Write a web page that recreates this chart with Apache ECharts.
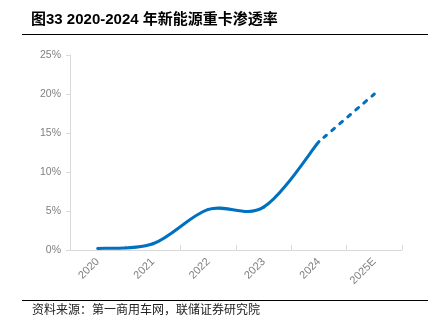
<!DOCTYPE html>
<html>
<head>
<meta charset="utf-8">
<script src="https://cdn.jsdelivr.net/npm/echarts@6/dist/echarts.min.js"></script>
<style>
html,body{margin:0;padding:0;background:#fff;}
#chart{width:439px;height:332px;}
</style>
</head>
<body>
<div id="chart"></div>
<script>
const titleText = '图33 2020-2024 年新能源重卡渗透率';
const sourceText = '资料来源：第一商用车网，联储证券研究院';
const categories = ['2020', '2021', '2022', '2023', '2024', '2025E'];
const actualValues = [0.2, 0.8, 5.2, 5.5, 13.9, null];
const forecastValues = [null, null, null, null, 13.9, 20.0];
const yTicks = [0, 5, 10, 15, 20, 25];

const FONT = "'Liberation Sans', 'Noto Sans CJK SC', sans-serif";
const LINE_COLOR = '#0070C0';

// Excel-style smoothed segment (Catmull-Rom -> cubic Bezier) through library coords
function segmentPath(vals, i, api, reverse) {
  const n = vals.length;
  const ok = k => k >= 0 && k < n && vals[k] != null;
  const p = k => api.coord([k, vals[k]]);
  const p0 = p(i), p1 = p(i + 1);
  const pm = ok(i - 1) ? p(i - 1) : p0;
  const pp = ok(i + 2) ? p(i + 2) : p1;
  const c1 = [p0[0] + (p1[0] - pm[0]) / 6, p0[1] + (p1[1] - pm[1]) / 6];
  const c2 = [p1[0] - (pp[0] - p0[0]) / 6, p1[1] - (pp[1] - p0[1]) / 6];
  const pts = reverse ? [p1, c2, c1, p0] : [p0, c1, c2, p1];
  const s = q => q[0] + ',' + q[1];
  return 'M' + s(pts[0]) + ' C' + s(pts[1]) + ' ' + s(pts[2]) + ' ' + s(pts[3]);
}

function segData(vals) {
  const out = [];
  for (let i = 0; i < vals.length - 1; i++) {
    if (vals[i] != null && vals[i + 1] != null) out.push([i, vals[i]]);
  }
  return out;
}

function makeSeries(vals, dash, reverse) {
  return {
    type: 'custom',
    coordinateSystem: 'cartesian2d',
    encode: {x: 0, y: 1},
    data: segData(vals),
    clip: false,
    renderItem: function (params, api) {
      const i = api.value(0);
      return {
        type: 'path',
        shape: {pathData: segmentPath(vals, i, api, reverse)},
        style: {
          fill: 'none',
          stroke: LINE_COLOR,
          lineWidth: 3,
          lineCap: 'round',
          lineDash: dash || null
        }
      };
    }
  };
}

const chart = echarts.init(document.getElementById('chart'), null, {renderer: 'canvas'});
chart.setOption({
  animation: false,
  backgroundColor: '#fff',
  grid: {left: 70, right: 37, top: 55, bottom: 82, containLabel: false},
  xAxis: {
    type: 'category',
    data: categories,
    boundaryGap: true,
    axisLine: {lineStyle: {color: '#d9d9d9', width: 1}},
    axisTick: {show: true, inside: true, length: 5, lineStyle: {color: '#d9d9d9'}},
    axisLabel: {rotate: 45, color: '#7f7f7f', fontSize: 11, fontFamily: FONT, margin: 10}
  },
  yAxis: {
    type: 'value',
    min: yTicks[0],
    max: yTicks[yTicks.length - 1],
    interval: 5,
    axisLine: {show: true, lineStyle: {color: '#d9d9d9', width: 1}},
    axisTick: {show: true, length: 4, lineStyle: {color: '#d9d9d9'}},
    splitLine: {show: false},
    axisLabel: {color: '#7f7f7f', fontSize: 10.5, fontFamily: FONT, margin: 9, formatter: '{value}%'}
  },
  series: [
    makeSeries(actualValues, null, false),
    makeSeries(forecastValues, [3.5, 7], true)
  ],
  graphic: [
    {type: 'text', left: 31, top: 12, style: {text: titleText, font: 'bold 15px ' + FONT, fill: '#000'}},
    {type: 'line', shape: {x1: 22, y1: 34.5, x2: 428, y2: 34.5}, style: {stroke: '#000', lineWidth: 1}},
    {type: 'line', shape: {x1: 22, y1: 300.5, x2: 428, y2: 300.5}, style: {stroke: '#000', lineWidth: 1}},
    {type: 'text', left: 32, top: 305, style: {text: sourceText, font: '12px ' + FONT, fill: '#222'}}
  ]
});
</script>
</body>
</html>
